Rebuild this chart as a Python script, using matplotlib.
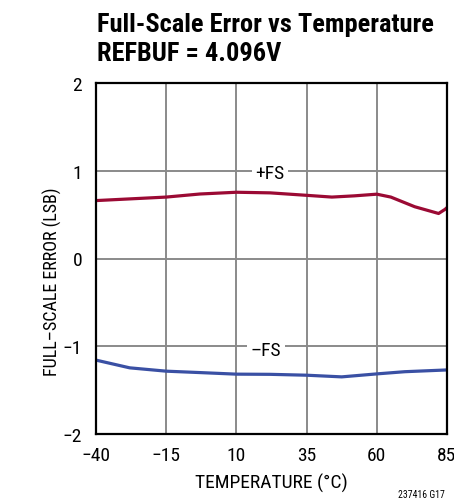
import matplotlib
matplotlib.use('Agg')
import matplotlib.pyplot as plt

plt.rcParams['font.family'] = ['Roboto Condensed', 'DejaVu Sans']

# values
temp_pos = [-40, -27.5, -15, -3, 10, 22, 35, 44, 52, 60, 65, 73.5, 82, 84.3, 85]
fs_pos = [0.66, 0.68, 0.70, 0.735, 0.755, 0.748, 0.72, 0.70, 0.714, 0.733, 0.70, 0.59, 0.513, 0.56, 0.58]

temp_neg = [-40, -28, -15, -3, 10, 22, 35, 47.5, 60, 70, 85]
fs_neg = [-1.158, -1.246, -1.284, -1.30, -1.318, -1.32, -1.33, -1.349, -1.315, -1.29, -1.27]

xticks = [-40, -15, 10, 35, 60, 85]
yticks = [-2, -1, 0, 1, 2]

fig = plt.figure(figsize=(4.54, 5.02), dpi=100)
ax = fig.add_axes([96 / 454, 67 / 502, 351 / 454, 351 / 502])

ax.plot(temp_pos, fs_pos, color='#9b0a34', lw=2.3, solid_capstyle='round')
ax.plot(temp_neg, fs_neg, color='#3a50a4', lw=2.3, solid_capstyle='round')

ax.set_xlim(-40, 85)
ax.set_ylim(-2, 2)
ax.set_xticks(xticks)
ax.set_yticks(yticks)
ax.grid(True, color='#8a8a8a', lw=1.4)
ax.tick_params(length=0, labelsize=14, colors='black')
ax.tick_params(axis='x', pad=9)
ax.tick_params(axis='y', pad=10)
for s in ax.spines.values():
    s.set_linewidth(1.6)

ax.set_xlabel('TEMPERATURE (°C)', fontsize=14, labelpad=6)
ax.set_ylabel('FULL–SCALE ERROR (LSB)', fontsize=13)
ax.yaxis.set_label_coords(-0.097, 0.436)

box = dict(facecolor='white', edgecolor='none', pad=2.5)
ax.text(22, 0.97, '+FS', fontsize=14, ha='center', va='center', bbox=box)
ax.text(20.5, -1.04, '–FS', fontsize=14, ha='center', va='center', bbox=box)

fig.text(97 / 454, 1 - 31.7 / 502, 'Full-Scale Error vs Temperature', fontsize=19,
         fontweight='bold', va='baseline', ha='left')
fig.text(97 / 454, 1 - 61 / 502, 'REFBUF = 4.096V', fontsize=19,
         fontweight='bold', va='baseline', ha='left')
fig.text(445 / 454, 1 - 498 / 502, '237416 G17', fontsize=7, ha='right', va='baseline')

fig.savefig('out.png', dpi=100)
